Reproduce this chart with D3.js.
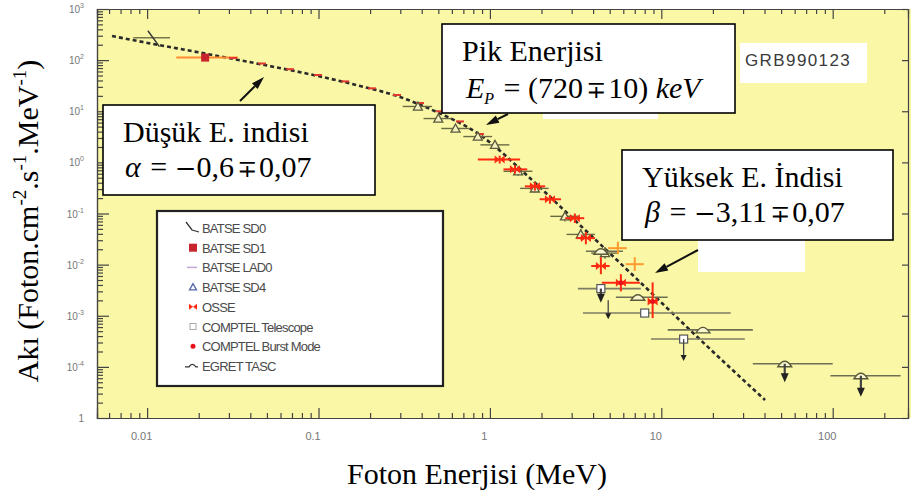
<!DOCTYPE html>
<html>
<head>
<meta charset="utf-8">
<script src="https://cdn.jsdelivr.net/npm/d3@7/dist/d3.min.js"></script>
<style>
  body { margin: 0; background: #fff; }
  svg { display: block; }
  .serif { font-family: "Liberation Serif", "Times New Roman", serif; fill: #000; }
  .pm { font-family: "DejaVu Serif", serif; }
  .tick-lbl { font-family: "Liberation Sans", Arial, sans-serif; fill: #777; }
  .legend-lbl { font-family: "Liberation Sans", Arial, sans-serif; fill: #4a4a4a; font-size: 13px; letter-spacing: -0.8px; }
</style>
</head>
<body>
<svg id="chart" width="911" height="495"></svg>
<script>

// ---- values (energy in MeV, flux in photon/cm2/s/MeV) ----

// dashed Band-function fit
var fitCurve = [
  [0.00624, 296], [0.00946, 226], [0.0224, 132], [0.0468, 82.1], [0.0993, 48.9],
  [0.175, 31.2], [0.299, 19.0], [0.447, 11.07], [0.875, 3.43], [1.71, 0.495],
  [2.82, 0.102], [4.39, 0.0253], [7.51, 0.00457], [14.7, 5.27e-4], [24.2, 1.09e-4], [40.3, 2.25e-5]
];

// BATSE SD0 : slanted spectral segment + energy band
var batseSd0Segment = [[0.0101, 376], [0.0118, 183]];
var batseSd0Band = [0.0083, 0.0136, 275];

// BATSE SD1 : [E, F, Elo, Ehi]
var batseSd1 = [[0.0218, 112, 0.0148, 0.0339]];

// BATSE LAD0 : [E, F]
var batseLad0 = [
  [0.0317, 110], [0.0468, 85.9], [0.0682, 66.5], [0.0993, 51.2], [0.143, 38.4], [0.205, 28.1],
  [0.287, 20.8], [0.391, 14.5], [0.512, 9.98], [0.669, 6.33], [0.875, 3.59]
];

// BATSE SD4 : [E, F, Elo, Ehi, Flo, Fhi]
var batseSd4 = [
  [0.38, 12.4, 0.31, 0.46, 11, 14],
  [0.50, 7.2, 0.41, 0.60, 6.4, 8.1],
  [0.63, 4.6, 0.52, 0.76, 4.0, 5.2],
  [0.85, 3.2, 0.70, 1.03, 2.8, 3.6],
  [1.07, 2.2, 0.88, 1.30, 1.9, 2.5],
  [1.46, 0.67, 1.20, 1.77, 0.55, 0.80],
  [1.83, 0.31, 1.50, 2.20, 0.26, 0.37],
  [2.74, 0.088, 2.25, 3.30, 0.07, 0.11],
  [3.39, 0.039, 2.80, 4.10, 0.031, 0.049],
  [4.69, 0.0168, 3.90, 5.60, 0.013, 0.022]
];

// OSSE : [E, F, Elo, Ehi, Flo, Fhi]
var osse = [
  [1.14, 1.14, 0.85, 1.50, 0.95, 1.35],
  [1.40, 0.73, 1.20, 1.65, 0.60, 0.88],
  [1.83, 0.34, 1.60, 2.10, 0.28, 0.41],
  [2.24, 0.19, 1.95, 2.60, 0.155, 0.23],
  [3.13, 0.081, 2.75, 3.55, 0.065, 0.10],
  [3.63, 0.033, 3.20, 4.10, 0.025, 0.043],
  [4.44, 0.0094, 3.90, 5.00, 0.0065, 0.014],
  [5.81, 0.0044, 4.50, 7.50, 0.003, 0.0065],
  [8.9, 0.0019, 8.60, 9.20, 0.0009, 0.0045]
];
// OSSE (lighter, orange) points
var osseOrange = [
  [5.58, 0.021, 4.90, 6.30, 0.016, 0.028],
  [7.0, 0.0102, 6.20, 7.90, 0.0075, 0.014]
];

// COMPTEL Telescope : [E, F, Elo, Ehi]
var comptelTel = [[8.0, 0.00113, 3.49, 25.4], [4.44, 0.0034, 3.26, 7.6], [13.5, 3.5e-4, 8.7, 30.7]];

// COMPTEL Burst Mode : [E, F]
var comptelBurst = [[5.81, 0.0044], [8.9, 0.0019]];

// EGRET TASC : [E, F, Elo, Ehi]
var egretTasc = [
  [4.44, 0.0183, 3.63, 5.97],
  [7.3, 0.0023, 5.43, 10.9],
  [17.5, 5.3e-4, 10.9, 34.2],
  [52.5, 1.15e-4, 34.2, 100],
  [146, 6.7e-5, 97, 249]
];

// upper limits : [E, F, Fend, filled]
var upperLimits = [
  [4.44, 0.0034, 0.0018, 1],
  [4.9, 0.0020, 0.00085, 0],
  [13.5, 3.5e-4, 1.3e-4, 0],
  [52.5, 1.15e-4, 5.0e-5, 1],
  [146, 6.7e-5, 2.6e-5, 1]
];

// axis ticks
var xTickValues = [0.01, 0.1, 1, 10, 100];
var xTickLabels = ["0.01", "0.1", "1", "10", "100"];
var yTickValues = [1e3, 1e2, 1e1, 1e0, 1e-1, 1e-2, 1e-3, 1e-4, 1e-5];
var yTickBase = ["10", "10", "10", "10", "10", "10", "10", "10", "1"];
var yTickExp = ["3", "2", "1", "0", "-1", "-2", "-3", "-4", ""];

var legendLabels = ["BATSE SD0", "BATSE SD1", "BATSE LAD0", "BATSE SD4", "OSSE",
                    "COMPTEL Telescope", "COMPTEL Burst Mode", "EGRET TASC"];

// ---- layout ----
var plot = {left: 97, right: 908, top: 9, bottom: 418};

var svg = d3.select("#chart");

var x = d3.scaleLog().domain([0.0051, 275]).range([plot.left, plot.right]);
var y = d3.scaleLog().domain([1e-5, 1e3]).range([plot.bottom, plot.top]);

// yellow plot area
svg.append("rect")
    .attr("x", plot.left).attr("y", plot.top)
    .attr("width", 911 - plot.left).attr("height", plot.bottom - plot.top)
    .attr("fill", "#faf8a6");

svg.append("defs").append("clipPath").attr("id", "clip")
  .append("rect")
    .attr("x", plot.left).attr("y", plot.top)
    .attr("width", plot.right - plot.left).attr("height", plot.bottom - plot.top);

// ---- axes ----
var minorX = x.ticks().filter(function(d) { return xTickValues.indexOf(d) < 0; });
var minorY = y.ticks().filter(function(d) { return yTickValues.indexOf(d) < 0; });

var axisStyle = function(g) {
  g.select(".domain").attr("stroke", "#444").attr("stroke-width", 1.2);
  g.selectAll(".tick line").attr("stroke", "#444").attr("stroke-width", 1.2);
};

svg.append("g").attr("transform", "translate(0," + plot.bottom + ")")
    .call(d3.axisBottom(x).tickValues(minorX).tickSize(-5).tickFormat(""))
    .call(axisStyle);
svg.append("g").attr("transform", "translate(0," + plot.bottom + ")")
    .call(d3.axisBottom(x).tickValues(xTickValues).tickSize(-10).tickPadding(14)
      .tickFormat(function(d, i) { return xTickLabels[i]; }))
    .call(axisStyle)
    .call(function(g) {
      g.selectAll("text").attr("class", "tick-lbl").attr("font-size", 11)
        .attr("dx", -6).attr("fill", "#777");
    });

svg.append("g").attr("transform", "translate(0," + plot.top + ")")
    .call(d3.axisTop(x).tickValues(minorX).tickSize(-5).tickFormat(""))
    .call(axisStyle);
svg.append("g").attr("transform", "translate(0," + plot.top + ")")
    .call(d3.axisTop(x).tickValues(xTickValues).tickSize(-10).tickFormat(""))
    .call(axisStyle);

svg.append("g").attr("transform", "translate(" + plot.left + ",0)")
    .call(d3.axisLeft(y).tickValues(minorY).tickSize(-6).tickFormat(""))
    .call(axisStyle);
svg.append("g").attr("transform", "translate(" + plot.left + ",0)")
    .call(d3.axisLeft(y).tickValues(yTickValues).tickSize(-12).tickFormat(""))
    .call(axisStyle);

svg.append("g").attr("transform", "translate(" + plot.right + ",0)")
    .call(d3.axisRight(y).tickValues(yTickValues).tickSize(-6).tickFormat(""))
    .call(axisStyle);

// y tick labels with superscripts
svg.append("g").selectAll("text")
    .data(yTickValues)
    .join("text")
    .attr("class", "tick-lbl")
    .attr("x", 84)
    .attr("y", function(d) { return y(d) + 4; })
    .attr("text-anchor", "end")
    .attr("font-size", 10)
    .each(function(d, i) {
      var t = d3.select(this);
      t.append("tspan").text(yTickBase[i]);
      if (yTickExp[i]) {
        t.append("tspan").attr("dy", -5).attr("font-size", 7).text(yTickExp[i]);
      }
    });

// ---- data layer ----
var data = svg.append("g").attr("clip-path", "url(#clip)");

var olive = "#77774e";
var red = "#ff2a10";
var orange = "#ff9a2e";

// fit curve
var line = d3.line()
    .x(function(d) { return x(d[0]); })
    .y(function(d) { return y(d[1]); })
    .curve(d3.curveMonotoneX);

data.append("path")
    .datum(fitCurve)
    .attr("d", line)
    .attr("fill", "none")
    .attr("stroke", "#2a2a2a")
    .attr("stroke-width", 2.6)
    .attr("stroke-dasharray", "4,3");

// error bars helper
var errorBars = function(rows, color, width) {
  var g = data.append("g").attr("stroke", color).attr("stroke-width", width);
  g.selectAll(".h").data(rows).join("line")
      .attr("x1", function(d) { return x(d[2]); })
      .attr("x2", function(d) { return x(d[3]); })
      .attr("y1", function(d) { return y(d[1]); })
      .attr("y2", function(d) { return y(d[1]); });
  g.selectAll(".v").data(rows.filter(function(d) { return d.length > 4; })).join("line")
      .attr("x1", function(d) { return x(d[0]); })
      .attr("x2", function(d) { return x(d[0]); })
      .attr("y1", function(d) { return y(d[4]); })
      .attr("y2", function(d) { return y(d[5]); });
  return g;
};

// BATSE SD0
data.append("line")
    .attr("x1", x(batseSd0Band[0])).attr("x2", x(batseSd0Band[1]))
    .attr("y1", y(batseSd0Band[2])).attr("y2", y(batseSd0Band[2]))
    .attr("stroke", olive).attr("stroke-width", 1.5);
data.append("line")
    .attr("x1", x(batseSd0Segment[0][0])).attr("y1", y(batseSd0Segment[0][1]))
    .attr("x2", x(batseSd0Segment[1][0])).attr("y2", y(batseSd0Segment[1][1]))
    .attr("stroke", "#333").attr("stroke-width", 1.4);

// BATSE SD1
errorBars(batseSd1, "#ff8a30", 2);
data.selectAll(".sd1").data(batseSd1).join("rect")
    .attr("x", function(d) { return x(d[0]) - 4; })
    .attr("y", function(d) { return y(d[1]) - 4; })
    .attr("width", 8).attr("height", 8)
    .attr("fill", "#c8242e");

// BATSE LAD0
data.selectAll(".lad").data(batseLad0).join("line")
    .attr("x1", function(d) { return x(d[0]) - 4; })
    .attr("x2", function(d) { return x(d[0]) + 4; })
    .attr("y1", function(d) { return y(d[1]); })
    .attr("y2", function(d) { return y(d[1]); })
    .attr("stroke", "#e03a30").attr("stroke-width", 2);

// BATSE SD4
errorBars(batseSd4, "#6a6a44", 1.4);
var triPath = function(s) {
  return "M0," + (-s) + "L" + s + "," + (s * 0.8) + "L" + (-s) + "," + (s * 0.8) + "Z";
};
data.selectAll(".sd4").data(batseSd4).join("path")
    .attr("transform", function(d) { return "translate(" + x(d[0]) + "," + y(d[1]) + ")"; })
    .attr("d", triPath(4.5))
    .attr("fill", "#f4f0c0").attr("stroke", "#5a5a3a").attr("stroke-width", 1.3);

// COMPTEL Telescope
errorBars(comptelTel, "#7d7d66", 1.6);
data.selectAll(".ct").data(comptelTel).join("rect")
    .attr("x", function(d) { return x(d[0]) - 4; })
    .attr("y", function(d) { return y(d[1]) - 4; })
    .attr("width", 8).attr("height", 8)
    .attr("fill", "#fff").attr("stroke", "#555").attr("stroke-width", 1.2);

// EGRET TASC
errorBars(egretTasc, "#6e6e55", 1.6);
data.selectAll(".eg").data(egretTasc).join("path")
    .attr("transform", function(d) { return "translate(" + x(d[0]) + "," + y(d[1]) + ")"; })
    .attr("d", "M-7,3 Q0,-8 7,3 Z")
    .attr("fill", "#faf6d0").attr("stroke", "#5a5a3a").attr("stroke-width", 1.4);

// OSSE
errorBars(osse, red, 2);
errorBars(osseOrange, orange, 2);
data.selectAll(".os").data(osse).join("path")
    .attr("transform", function(d) { return "translate(" + x(d[0]) + "," + y(d[1]) + ")"; })
    .attr("d", "M-5,-4L5,4L5,-4L-5,4Z")
    .attr("fill", red);

// COMPTEL Burst Mode
data.selectAll(".cb").data(comptelBurst).join("circle")
    .attr("cx", function(d) { return x(d[0]); })
    .attr("cy", function(d) { return y(d[1]); })
    .attr("r", 2.5).attr("fill", "#e8101a");

// upper limits
upperLimits.forEach(function(d) {
  var xx = x(d[0]), y0 = y(d[1]), y1 = y(d[2]);
  data.append("line")
      .attr("x1", xx).attr("x2", xx).attr("y1", y0).attr("y2", y1 - (d[3] ? 6 : 4))
      .attr("stroke", "#444").attr("stroke-width", d[3] ? 2.2 : 1.3);
  data.append("path")
      .attr("d", d[3]
        ? "M" + (xx - 4) + "," + (y1 - 9) + "L" + (xx + 4) + "," + (y1 - 9) + "L" + xx + "," + y1 + "Z"
        : "M" + (xx - 3) + "," + (y1 - 6) + "L" + (xx + 3) + "," + (y1 - 6) + "L" + xx + "," + y1 + "Z")
      .attr("fill", "#222");
});

// ---- annotation boxes ----
var boxes = svg.append("g");
var box = function(x0, y0, w, h) {
  return boxes.append("rect").attr("x", x0).attr("y", y0).attr("width", w).attr("height", h)
      .attr("fill", "#fff").attr("stroke", "#000").attr("stroke-width", 1.6);
};

// white patches from the original figure
boxes.append("rect").attr("x", 543).attr("y", 112).attr("width", 115).attr("height", 7).attr("fill", "#fff");
boxes.append("rect").attr("x", 698).attr("y", 240).attr("width", 107).attr("height", 32).attr("fill", "#fff");

// GRB label
boxes.append("rect").attr("x", 740).attr("y", 43).attr("width", 127).attr("height", 40).attr("fill", "#fff");
boxes.append("text")
    .attr("x", 745).attr("y", 66)
    .attr("font-family", "Liberation Sans, Arial, sans-serif")
    .attr("font-size", 17).attr("letter-spacing", 1.4)
    .attr("fill", "#3a3a3a")
    .text("GRB990123");

// legend
box(157, 211, 286, 175).attr("stroke", "#222").attr("stroke-width", 2.2);
var legend = boxes.append("g");
var legY = function(i) { return 228 + i * 19.7; };
legend.selectAll("text").data(legendLabels).join("text")
    .attr("class", "legend-lbl")
    .attr("x", 202)
    .attr("y", function(d, i) { return legY(i) + 5; })
    .text(function(d) { return d; });

var sx = 193;
legend.append("path").attr("d", "M" + (sx - 7) + "," + (legY(0) - 6) + "L" + (sx - 1) + "," + (legY(0) + 2) + "L" + (sx + 6) + "," + (legY(0) + 4))
    .attr("fill", "none").attr("stroke", "#333").attr("stroke-width", 1.3);
legend.append("rect").attr("x", sx - 4).attr("y", legY(1) - 4).attr("width", 8).attr("height", 8).attr("fill", "#c8242e");
legend.append("line").attr("x1", sx - 6).attr("x2", sx + 4).attr("y1", legY(2)).attr("y2", legY(2))
    .attr("stroke", "#c6a6d8").attr("stroke-width", 1.5);
legend.append("path").attr("transform", "translate(" + sx + "," + legY(3) + ")").attr("d", triPath(3.5))
    .attr("fill", "none").attr("stroke", "#5566aa").attr("stroke-width", 1.3);
legend.append("path").attr("transform", "translate(" + sx + "," + legY(4) + ")").attr("d", "M-4,-3L4,3L4,-3L-4,3Z")
    .attr("fill", red);
legend.append("rect").attr("x", sx - 3).attr("y", legY(5) - 3).attr("width", 6).attr("height", 6)
    .attr("fill", "none").attr("stroke", "#aaa").attr("stroke-width", 1);
legend.append("circle").attr("cx", sx).attr("cy", legY(6)).attr("r", 2.5).attr("fill", "#e8101a");
legend.append("path").attr("transform", "translate(" + (sx - 1) + "," + legY(7) + ")").attr("d", "M-7,1 L-3,1 Q0,-4 4,1 L6,1")
    .attr("fill", "none").attr("stroke", "#333").attr("stroke-width", 1.3);

// text boxes
box(103, 105, 272, 90);
box(442, 24, 293, 89);
box(622, 150, 271, 90);

var tbox = boxes.append("g").attr("class", "serif").attr("font-size", 30);

// formula line: symbol (italic), minus, value, minus-plus, error
var formula = function(x0, y0, sym, value, err) {
  var t = tbox.append("text").attr("x", x0).attr("y", y0);
  t.append("tspan").attr("font-style", "italic").text(sym);
  t.append("tspan").attr("dx", 2).text(" = ");
  t.append("tspan").attr("class", "pm").attr("font-size", 26).text("−");
  t.append("tspan").attr("class", "serif").text(value);
  t.append("tspan").attr("class", "pm").attr("font-size", 24).attr("dx", 3).text("∓");
  t.append("tspan").attr("class", "serif").attr("dx", 2).text(err);
  return t;
};

tbox.append("text").attr("x", 123).attr("y", 142).text("Düşük E. indisi");
formula(125, 177, "α", "0,6", "0,07");

tbox.append("text").attr("x", 462).attr("y", 61).text("Pik Enerjisi");
var e = tbox.append("text").attr("x", 466).attr("y", 98);
e.append("tspan").attr("font-style", "italic").text("E");
e.append("tspan").attr("font-style", "italic").attr("font-size", 16).attr("dy", 6).text("P");
e.append("tspan").attr("dy", -6).attr("dx", 2).text(" = (720");
e.append("tspan").attr("class", "pm").attr("font-size", 24).attr("dx", 3).text("∓");
e.append("tspan").attr("class", "serif").attr("dx", 2).text("10) ");
e.append("tspan").attr("font-style", "italic").text("keV");

tbox.append("text").attr("x", 642).attr("y", 187).text("Yüksek E. İndisi");
formula(645, 222, "β", "3,11", "0,07");

// annotation arrows
var arrows = [
  [[240, 101], [264, 77]],
  [[508, 114], [486, 125]],
  [[698, 250], [655, 273]]
];
arrows.forEach(function(ar) {
  var p0 = ar[0], p1 = ar[1];
  var ang = Math.atan2(p1[1] - p0[1], p1[0] - p0[0]);
  var len = 13, half = 4;
  var bx = p1[0] - len * Math.cos(ang), by = p1[1] - len * Math.sin(ang);
  svg.append("line").attr("x1", p0[0]).attr("y1", p0[1]).attr("x2", bx).attr("y2", by)
      .attr("stroke", "#111").attr("stroke-width", 2);
  svg.append("path")
      .attr("d", "M" + p1[0] + "," + p1[1] +
        "L" + (bx + half * Math.sin(ang)) + "," + (by - half * Math.cos(ang)) +
        "L" + (bx - half * Math.sin(ang)) + "," + (by + half * Math.cos(ang)) + "Z")
      .attr("fill", "#111");
});

// ---- axis titles ----
svg.append("text")
    .attr("class", "serif")
    .attr("x", 477).attr("y", 484)
    .attr("text-anchor", "middle")
    .attr("font-size", 30)
    .text("Foton Enerjisi (MeV)");

var yt = svg.append("text")
    .attr("class", "serif")
    .attr("transform", "translate(38,221) rotate(-90)")
    .attr("text-anchor", "middle")
    .attr("font-size", 30);
yt.append("tspan").text("Akı (Foton.cm");
yt.append("tspan").attr("font-size", 19).attr("dy", -12).text("-2");
yt.append("tspan").attr("dy", 12).text(".s");
yt.append("tspan").attr("font-size", 19).attr("dy", -12).text("-1");
yt.append("tspan").attr("dy", 12).text(".MeV");
yt.append("tspan").attr("font-size", 19).attr("dy", -12).text("-1");
yt.append("tspan").attr("dy", 12).text(")");

</script>
</body>
</html>
